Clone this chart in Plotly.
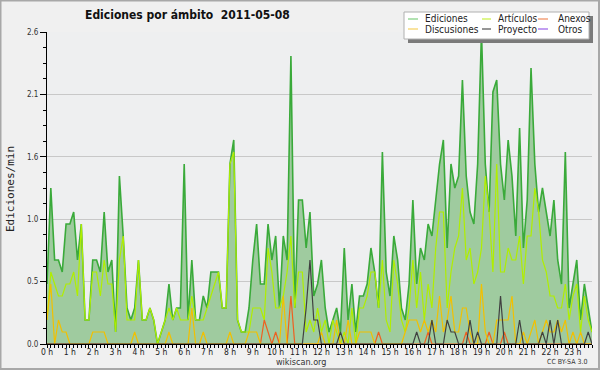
import plotly.graph_objects as go

# ---------------- data (10-minute slots, edits per minute) ----------------
minutes = list(range(0, 1440, 10))
hours = [m / 60 for m in minutes]

hour_ticks = list(range(24))
hour_labels = [f"{h} h" for h in hour_ticks]

y_ticks = [0.0, 0.52, 1.04, 1.56, 2.08, 2.6]
y_labels = ["0.0", "0.5", "1.0", "1.6", "2.1", "2.6"]

ediciones = [
    0.5, 1.3, 0.7, 0.7, 0.6, 1.0, 1.0, 1.1, 0.7, 1.0, 0.2, 0.2,
    0.7, 0.7, 0.6, 1.1, 0.6, 0.7, 0.1, 1.4, 0.9, 0.3, 0.2, 0.3,
    0.7, 0.2, 0.2, 0.3, 0.2, 0.0, 0.1, 0.2, 0.5, 0.2, 0.3, 0.3,
    1.5, 0.2, 0.7, 0.2, 0.2, 0.4, 0.3, 0.6, 0.6, 0.6, 0.3, 0.3,
    1.5, 1.7, 0.2, 0.1, 0.1, 0.3, 0.7, 1.0, 0.5, 0.5, 1.0, 0.7,
    0.9, 0.3, 0.9, 0.7, 2.4, 0.3, 1.2, 1.2, 0.8, 1.1, 0.4, 0.5,
    0.7, 0.3, 0.1, 0.2, 0.3, 0.1, 0.8, 0.2, 0.5, 0.1, 0.4, 0.4,
    0.5, 0.8, 0.6, 0.3, 1.6, 0.6, 0.4, 0.9, 0.7, 0.3, 0.2, 0.5,
    1.2, 0.5, 0.8, 0.7, 1.0, 0.9, 1.2, 1.5, 1.7, 0.8, 1.5, 1.3,
    1.4, 2.2, 1.4, 1.1, 1.0, 1.5, 2.6, 1.5, 1.1, 2.1, 2.2, 1.5,
    1.2, 1.7, 1.4, 0.9, 1.8, 0.8, 1.2, 2.3, 1.5, 1.1, 1.3, 1.1,
    0.9, 1.2, 0.7, 0.5, 1.6, 0.3, 0.5, 0.7, 0.2, 0.5, 0.3, 0.1,
]

articulos = [
    0.2, 0.6, 0.5, 0.4, 0.4, 0.5, 0.5, 0.6, 0.4, 1.0, 0.2, 0.2,
    0.6, 0.6, 0.4, 0.7, 0.5, 0.5, 0.1, 0.7, 0.9, 0.2, 0.2, 0.2,
    0.7, 0.2, 0.2, 0.3, 0.2, 0.0, 0.1, 0.2, 0.3, 0.2, 0.3, 0.2,
    0.2, 0.2, 0.4, 0.2, 0.2, 0.2, 0.3, 0.4, 0.5, 0.6, 0.3, 0.3,
    1.5, 1.6, 0.2, 0.1, 0.1, 0.1, 0.3, 0.3, 0.3, 0.2, 0.8, 0.6,
    0.3, 0.3, 0.4, 0.6, 0.9, 0.3, 0.6, 0.6, 0.1, 0.2, 0.1, 0.3,
    0.1, 0.2, 0.0, 0.2, 0.1, 0.0, 0.1, 0.0, 0.3, 0.0, 0.3, 0.3,
    0.4, 0.6, 0.6, 0.3, 0.7, 0.2, 0.1, 0.7, 0.5, 0.2, 0.1, 0.3,
    0.7, 0.3, 0.6, 0.2, 0.5, 0.3, 0.8, 1.1, 1.1, 0.3, 0.6, 0.8,
    0.9, 1.3, 0.7, 0.8, 0.5, 0.6, 0.8, 1.4, 1.1, 0.6, 1.5, 0.6,
    0.6, 0.8, 0.7, 0.7, 0.9, 0.5, 0.9, 0.9, 1.3, 1.1, 0.7, 0.6,
    0.4, 0.4, 0.3, 0.3, 0.5, 0.2, 0.4, 0.5, 0.1, 0.4, 0.2, 0.1,
]

anexos = [
    0, 0, 0, 0, 0, 0, 0, 0, 0, 0, 0, 0,
    0, 0, 0, 0, 0, 0, 0, 0, 0, 0, 0, 0,
    0, 0, 0, 0, 0, 0, 0, 0, 0, 0, 0, 0,
    0, 0, 0, 0, 0, 0, 0, 0, 0, 0, 0, 0,
    0, 0, 0, 0, 0, 0, 0, 0, 0, 0.2, 0.1, 0,
    0.1, 0, 0, 0, 0.4, 0, 0, 0, 0, 0, 0, 0,
    0, 0, 0, 0, 0, 0, 0, 0, 0, 0, 0, 0,
    0, 0, 0, 0.1, 0, 0, 0, 0, 0, 0, 0, 0,
    0, 0, 0, 0, 0.1, 0, 0, 0, 0, 0, 0, 0,
    0, 0, 0.1, 0, 0, 0, 0, 0, 0.1, 0, 0, 0,
    0.1, 0, 0, 0, 0, 0, 0, 0, 0, 0, 0, 0,
    0, 0, 0, 0, 0, 0, 0, 0, 0, 0, 0, 0,
]

discusiones = [
    0.2, 0.5, 0, 0.2, 0.1, 0.1, 0, 0, 0, 0, 0, 0,
    0.1, 0.1, 0.1, 0.1, 0, 0, 0, 0, 0, 0, 0, 0.1,
    0, 0, 0, 0, 0, 0, 0, 0, 0.1, 0, 0, 0,
    0, 0, 0.3, 0, 0, 0.1, 0, 0, 0, 0, 0, 0,
    0.1, 0, 0, 0, 0, 0.1, 0.1, 0.1, 0, 0, 0, 0,
    0, 0, 0.4, 0, 0, 0, 0, 0, 0, 0, 0, 0,
    0.1, 0, 0, 0, 0.2, 0, 0, 0.2, 0, 0, 0.1, 0.1,
    0.1, 0.1, 0, 0, 0, 0, 0, 0, 0, 0, 0.1, 0.2,
    0.2, 0.2, 0.1, 0.2, 0.1, 0.2, 0.1, 0.4, 0.1, 0.2, 0.4, 0.1,
    0.1, 0.3, 0.3, 0.1, 0, 0, 0.5, 0.1, 0, 0, 0.2, 0.2,
    0.2, 0.2, 0.4, 0, 0, 0.1, 0, 0.1, 0.2, 0, 0.1, 0.2,
    0.1, 0.1, 0.2, 0.1, 0.2, 0, 0.1, 0, 0.1, 0, 0, 0,
]

proyecto = [
    0, 0, 0, 0, 0, 0, 0, 0, 0, 0, 0, 0,
    0, 0, 0, 0, 0, 0, 0, 0, 0, 0, 0, 0,
    0, 0, 0, 0, 0, 0, 0, 0, 0, 0, 0, 0,
    0, 0, 0, 0, 0, 0, 0, 0, 0, 0, 0, 0,
    0, 0, 0, 0, 0, 0, 0, 0, 0, 0, 0, 0,
    0, 0, 0, 0, 0, 0, 0, 0, 0.3, 0.7, 0.2, 0.2,
    0, 0, 0, 0, 0, 0.1, 0, 0, 0, 0, 0, 0,
    0, 0, 0, 0, 0, 0, 0, 0, 0, 0, 0, 0,
    0, 0.1, 0, 0, 0, 0.2, 0, 0, 0, 0.2, 0.1, 0.1,
    0, 0, 0, 0.2, 0, 0.1, 0, 0, 0, 0, 0, 0.4,
    0, 0, 0, 0, 0.2, 0, 0, 0, 0, 0, 0.1, 0,
    0.2, 0, 0.2, 0, 0, 0, 0, 0, 0, 0, 0.1, 0,
]

otros = [
    0, 0, 0, 0, 0, 0, 0, 0, 0, 0, 0, 0, 0, 0, 0, 0, 0, 0, 0, 0, 0, 0, 0, 0,
    0, 0, 0, 0, 0, 0, 0, 0, 0, 0, 0, 0, 0, 0, 0, 0, 0, 0, 0, 0, 0, 0, 0, 0,
    0, 0, 0, 0, 0, 0, 0, 0, 0, 0, 0, 0, 0, 0, 0, 0, 0, 0, 0, 0, 0, 0, 0, 0,
    0, 0, 0, 0, 0, 0, 0, 0, 0, 0, 0, 0, 0, 0, 0, 0, 0, 0, 0, 0, 0, 0, 0, 0,
    0, 0, 0, 0, 0, 0, 0, 0, 0, 0, 0, 0, 0, 0, 0, 0, 0, 0, 0, 0, 0, 0, 0, 0,
    0, 0, 0, 0, 0, 0, 0, 0, 0, 0, 0, 0, 0, 0, 0, 0, 0, 0, 0, 0, 0, 0, 0, 0,
]

series = [
    ("Otros", otros, "#8a4fe0"),
    ("Ediciones", ediciones, "#3aaa3a"),
    ("Artículos", articulos, "#b0ee00"),
    ("Anexos", anexos, "#ee6020"),
    ("Discusiones", discusiones, "#f2c000"),
    ("Proyecto", proyecto, "#404040"),
]

# ---------------- layout geometry (pixels) ----------------
W, H = 600, 370
L, R, T, B = 47, 592, 32, 344


def px(x):
    return (x - L) / (R - L)


def py(y):
    return (B - y) / (B - T)


SANS = "DejaVu Sans Condensed, Liberation Sans, sans-serif"

fig = go.Figure()
for name, vals, col in series:
    if name == "Ediciones":
        fig.add_trace(go.Scatter(
            x=hours, y=vals, name=name, mode="lines",
            line=dict(color=col, width=1.6),
            fill="tozeroy", fillcolor="#9fcb9f", showlegend=False))
    else:
        fig.add_trace(go.Scatter(
            x=hours, y=vals, name=name, mode="lines",
            line=dict(color=col, width=1.2), showlegend=False))

shapes = []
annotations = []

# outer frame
shapes.append(dict(type="rect", xref="paper", yref="paper",
                   x0=px(0.5), x1=px(599), y0=py(369), y1=py(0.5),
                   line=dict(color="#a8a8a8", width=2), layer="above"))

# legend box with shadow
shapes.append(dict(type="rect", xref="paper", yref="paper",
                   x0=px(408), x1=px(593), y0=py(43), y1=py(16),
                   fillcolor="#7a7a7a", line=dict(width=0), layer="above"))
shapes.append(dict(type="rect", xref="paper", yref="paper",
                   x0=px(404), x1=px(589), y0=py(39), y1=py(12),
                   fillcolor="#ffffff", line=dict(color="#b0b0b0", width=1),
                   layer="above"))

legend_items = [
    ("Ediciones", "#7fcf7f", 408, 418, 423, 19),
    ("Artículos", "#c8f040", 482, 491, 496, 19),
    ("Anexos", "#f08a5a", 538, 548, 556, 19),
    ("Discusiones", "#f5d060", 408, 418, 423, 29),
    ("Proyecto", "#505050", 482, 491, 496, 29),
    ("Otros", "#9a60e8", 538, 548, 556, 29),
]
for label, col, lx0, lx1, tx, ly in legend_items:
    shapes.append(dict(type="line", xref="paper", yref="paper",
                       x0=px(lx0), x1=px(lx1), y0=py(ly), y1=py(ly),
                       line=dict(color=col, width=1.2), layer="above"))
    annotations.append(dict(text=label, xref="paper", yref="paper",
                            x=px(tx), y=py(ly), xanchor="left", yanchor="middle",
                            showarrow=False,
                            font=dict(family=SANS, size=10, color="#222222")))

# axis title and footer texts
annotations.append(dict(text="Ediciones/min", xref="paper", yref="paper",
                        x=px(10), y=py(189), textangle=-90,
                        xanchor="center", yanchor="middle", showarrow=False,
                        font=dict(family="DejaVu Sans Mono", size=11, color="#222222")))
annotations.append(dict(text="wikiscan.org", xref="paper", yref="paper",
                        x=px(301), y=py(362), xanchor="center", yanchor="middle",
                        showarrow=False,
                        font=dict(family=SANS, size=9, color="#333333")))
annotations.append(dict(text="CC BY-SA 3.0", xref="paper", yref="paper",
                        x=px(589), y=py(362), xanchor="right", yanchor="middle",
                        showarrow=False,
                        font=dict(family=SANS, size=7, color="#333333")))

fig.update_layout(
    width=W, height=H,
    margin=dict(l=L, r=W - R, t=T, b=H - B),
    paper_bgcolor="#f0f0f0",
    plot_bgcolor="#eeeff0",
    title=dict(text="Ediciones por ámbito\u00a0 2011-05-08",
               xref="container", yref="container",
               x=85 / W, y=1 - 15 / H, xanchor="left", yanchor="middle",
               font=dict(family=SANS, size=12, color="#111111", weight="bold")),
    shapes=shapes,
    annotations=annotations,
    hovermode=False,
    xaxis=dict(
        range=[0, hours[-1]],
        tickmode="array", tickvals=hour_ticks, ticktext=hour_labels,
        ticks="outside", ticklen=3, tickcolor="#000000", tickwidth=1,
        ticklabelstandoff=-3,
        showline=True, linecolor="#000000", linewidth=1,
        showgrid=False, zeroline=False,
        tickfont=dict(family=SANS, size=8.5, color="#222222"),
        minor=dict(dtick=1 / 6, tick0=0, ticks="outside", ticklen=3,
                   tickcolor="#000000", showgrid=False),
    ),
    yaxis=dict(
        range=[0, 2.6],
        tickmode="array", tickvals=y_ticks, ticktext=y_labels,
        ticks="outside", ticklen=6, tickcolor="#000000", tickwidth=1,
        showline=True, linecolor="#000000", linewidth=1,
        showgrid=True, gridcolor="#c8c8c8", gridwidth=1, zeroline=False,
        tickfont=dict(family=SANS, size=8, color="#333333"),
        minor=dict(dtick=0.13, tick0=0, ticks="outside", ticklen=3,
                   tickcolor="#000000", showgrid=False),
    ),
)

fig.write_html("out.html",
               config={"displayModeBar": False, "staticPlot": True},
               post_script="document.body.style.margin='0';"
                           "document.body.style.overflow='hidden';")
